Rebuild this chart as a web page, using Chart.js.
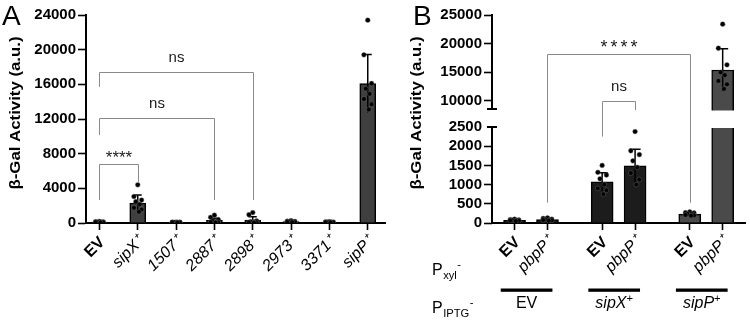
<!DOCTYPE html>
<html>
<head>
<meta charset="utf-8">
<script src="https://cdn.jsdelivr.net/npm/chart.js@4.4.1/dist/chart.umd.min.js"></script>
<style>
  html, body { margin: 0; padding: 0; background: #fff; }
  #wrap { position: relative; width: 750px; height: 323px; overflow: hidden; }
  canvas { position: absolute; top: 0; }
  #chartA { left: 0; }
  #chartB { left: 380px; }
</style>
</head>
<body>
<div id="wrap">
  <canvas id="chartA" width="390" height="323"></canvas>
  <canvas id="chartB" width="370" height="323"></canvas>
</div>
<script>
// ---------- panel A ----------
const strainsA = ['EV', 'sipX⁺', '1507⁺', '2887⁺', '2898⁺', '2973⁺', '3371⁺', 'sipP⁺'];
const meanA = [110, 2300, 80, 300, 330, 150, 100, 16100];
const sdA = [40, 930, 20, 250, 400, 60, 30, 3350];
const pointsA = [
  [180, 150, 120, 110, 100, 80, 70, 60],
  [4400, 3050, 2650, 2450, 2150, 1750, 1550, 1300],
  [110, 100, 90, 80, 75, 70, 60, 50],
  [900, 650, 400, 250, 150, 100, 60, 50],
  [1200, 950, 250, 150, 100, 80, 60, 50],
  [260, 220, 180, 150, 120, 100, 90, 80],
  [150, 130, 110, 100, 90, 80, 70, 60],
  [23400, 19400, 16100, 15500, 14900, 14300, 13700, 13100]
];
const ticksA = [0, 4000, 8000, 12000, 16000, 20000, 24000];
const sigA = [
  { from: 0, to: 1, text: '****', top: 6800, leftEnd: 2650, rightEnd: 4700 },
  { from: 0, to: 3, text: 'ns', top: 12100, leftEnd: 10150, rightEnd: 2650 },
  { from: 0, to: 4, text: 'ns', top: 17400, leftEnd: 15700, rightEnd: 2650 }
];

// ---------- panel B ----------
const pxylLabels = ['EV', 'pbpP⁺'];
const piptgLabels = ['EV', 'sipX⁺', 'sipP⁺'];
const meanB = [70, 90, 1070, 1490, 230, 15400];
const sdB = [15, 25, 240, 430, 30, 3700];
const pointsB = [
  [100, 90, 80, 70, 65, 60, 55, 50],
  [135, 120, 100, 90, 80, 75, 70, 60],
  [1500, 1320, 1250, 1150, 1000, 900, 850, 750],
  [2380, 1880, 1780, 1620, 1450, 1300, 1130, 1000],
  [290, 270, 260, 240, 230, 210, 200, 190],
  [23400, 19200, 16300, 15000, 14500, 13500, 12900, 12100]
];
const ticksB = [0, 500, 1000, 1500, 2000, 2500, 10000, 15000, 20000, 25000];
const sigB = [
  { from: 1, to: 4, text: '****', top: 18150, leftEnd: 530, rightEnd: 530 },
  { from: 2, to: 3, text: 'ns', top: 10000, leftEnd: 2250, rightEnd: 8250 }
];
const BREAK_LOW = 2500, BREAK_HIGH = 8600;

// ---------- shared setup ----------
const FAMILY = '"Liberation Sans", Arial, Helvetica, sans-serif';
Chart.defaults.font.family = FAMILY;
Chart.defaults.color = '#000';

const GROUP_STEP = 2.66;
const xOfA = i => i;
const xOfB = i => Math.floor(i / 2) * GROUP_STEP + (i % 2);
const jitter = [0, -1, 1, -0.5, 0.5, -1, 1, 0.3];

function scatterPoints(sets, xOf, spread) {
  const out = [];
  sets.forEach((vals, i) => {
    vals.forEach((v, k) => out.push({ x: xOf(i) + jitter[k % jitter.length] * spread, y: v }));
  });
  return out;
}

// lower axis segment is 0..2500, upper 8600..max, the rest is the break gap
const LOW_FRAC = 96 / 208, GAP_FRAC = 18 / 208;
class BrokenLinearScale extends Chart.LinearScale {
  static id = 'brokenLinear';
  toDecimal(v) {
    const up = 1 - LOW_FRAC - GAP_FRAC;
    if (v <= BREAK_LOW) return v / BREAK_LOW * LOW_FRAC;
    if (v < BREAK_HIGH) return LOW_FRAC + (v - BREAK_LOW) / (BREAK_HIGH - BREAK_LOW) * GAP_FRAC;
    return LOW_FRAC + GAP_FRAC + (v - BREAK_HIGH) / (this.max - BREAK_HIGH) * up;
  }
  getPixelForValue(v) {
    if (v === null || isNaN(v)) return NaN;
    return this.getPixelForDecimal(this.toDecimal(v));
  }
  getValueForPixel(p) {
    const d = this.getDecimalForPixel(p);
    const up = 1 - LOW_FRAC - GAP_FRAC;
    if (d <= LOW_FRAC) return d / LOW_FRAC * BREAK_LOW;
    if (d < LOW_FRAC + GAP_FRAC) return BREAK_LOW + (d - LOW_FRAC) / GAP_FRAC * (BREAK_HIGH - BREAK_LOW);
    return BREAK_HIGH + (d - LOW_FRAC - GAP_FRAC) / up * (this.max - BREAK_HIGH);
  }
}
Chart.register(BrokenLinearScale);

function font(size, weight, style) {
  return (style || 'normal') + ' ' + (weight || 'normal') + ' ' + size + 'px ' + FAMILY;
}

function makeErrorBars(means, sds, xOf, cap) {
  return {
    id: 'errorBars',
    afterDatasetDraw(chart, args) {
      if (args.index !== 0) return;
      const { ctx, scales: { x, y } } = chart;
      ctx.save();
      ctx.strokeStyle = '#000';
      ctx.lineWidth = 1.5;
      means.forEach((m, i) => {
        const px = x.getPixelForValue(xOf(i));
        const top = y.getPixelForValue(m + sds[i]);
        const bot = y.getPixelForValue(Math.max(0, m - sds[i]));
        ctx.beginPath();
        ctx.moveTo(px, bot); ctx.lineTo(px, top);
        ctx.moveTo(px - cap / 2, top); ctx.lineTo(px + cap / 2, top);
        ctx.stroke();
      });
      ctx.restore();
    }
  };
}

function drawBrackets(chart, list, xOf, starSize, starSpacing) {
  const { ctx, scales: { x, y } } = chart;
  ctx.save();
  list.forEach(b => {
    const x1 = Math.round(x.getPixelForValue(xOf(b.from))) + 0.5;
    const x2 = Math.round(x.getPixelForValue(xOf(b.to))) + 0.5;
    const yt = Math.round(y.getPixelForValue(b.top)) + 0.5;
    ctx.strokeStyle = '#8a8a8a';
    ctx.lineWidth = 1;
    ctx.beginPath();
    ctx.moveTo(x1, y.getPixelForValue(b.leftEnd));
    ctx.lineTo(x1, yt);
    ctx.lineTo(x2, yt);
    ctx.lineTo(x2, y.getPixelForValue(b.rightEnd));
    ctx.stroke();
    ctx.fillStyle = '#1a1a1a';
    ctx.textAlign = 'center';
    ctx.textBaseline = 'alphabetic';
    if (b.text === 'ns') {
      ctx.font = font(15);
      ctx.letterSpacing = '0px';
      ctx.fillText(b.text, (x1 + x2) / 2, yt - 11);
    } else {
      ctx.font = font(starSize);
      ctx.letterSpacing = starSpacing + 'px';
      ctx.fillText(b.text, (x1 + x2) / 2 + starSpacing / 2, yt - 2);
    }
  });
  ctx.restore();
}

function drawYTitle(ctx, cx, cy) {
  ctx.save();
  ctx.translate(cx, cy);
  ctx.rotate(-Math.PI / 2);
  ctx.scale(1.2, 1);
  ctx.font = font(14, 'bold');
  ctx.fillStyle = '#000';
  ctx.textAlign = 'center';
  ctx.textBaseline = 'middle';
  ctx.fillText('β-Gal Activity (a.u.)', 0, 0);
  ctx.restore();
}

function drawPanelLetter(ctx, letter, x, y) {
  ctx.save();
  ctx.font = font(28);
  ctx.fillStyle = '#000';
  ctx.textAlign = 'left';
  ctx.textBaseline = 'alphabetic';
  ctx.fillText(letter, x, y);
  ctx.restore();
}

// text with a superscript tail, e.g. sipX + "+"
function drawSup(ctx, main, sup, cx, base, size, style) {
  ctx.font = font(size, 'normal', style);
  const w1 = ctx.measureText(main).width;
  ctx.font = font(size * 0.7, 'normal', 'normal');
  const w2 = sup ? ctx.measureText(sup).width : 0;
  let x = cx - (w1 + w2) / 2;
  ctx.textAlign = 'left';
  ctx.font = font(size, 'normal', style);
  ctx.fillText(main, x, base);
  if (sup) {
    ctx.font = font(size * 0.7);
    ctx.fillText(sup, x + w1, base - size * 0.4);
  }
}

function drawSubSup(ctx, main, sub, sup, x, base, size) {
  ctx.textAlign = 'left';
  ctx.font = font(size);
  ctx.fillText(main, x, base);
  const w = ctx.measureText(main).width;
  ctx.font = font(size * 0.7);
  ctx.fillText(sub, x + w + 0.5, base + 4);
  const ws = ctx.measureText(sub).width;
  ctx.fillText(sup, x + w + ws + 1, base - 7);
}

function yAxisCommon(width) {
  return {
    afterFit: s => { s.width = width; },
    grid: { drawOnChartArea: false, tickLength: 8, tickColor: '#000', tickWidth: 1.6 },
    ticks: { color: '#000', padding: 2, font: { size: 15, weight: 'bold' }, callback: v => String(v) }
  };
}

function xTicks(labelOf, isBold) {
  return {
    autoSkip: false, minRotation: 45, maxRotation: 45, padding: 3, labelOffset: 3, color: '#000',
    font: c => ({ size: 16, weight: isBold(c.index) ? 'bold' : 'normal', style: isBold(c.index) ? 'normal' : 'italic' }),
    callback: (v, i) => labelOf(i)
  };
}

// ---------- chart A ----------
new Chart(document.getElementById('chartA'), {
  type: 'bar',
  data: {
    datasets: [
      {
        type: 'bar',
        data: meanA.map((m, i) => ({ x: xOfA(i), y: m })),
        backgroundColor: '#3f3f3f',
        borderColor: '#000',
        borderWidth: 1.5,
        barThickness: 16,
        order: 2
      },
      {
        type: 'scatter',
        data: scatterPoints(pointsA, xOfA, 0.1),
        pointRadius: 2.4,
        pointBackgroundColor: '#000',
        pointBorderColor: 'rgba(110,110,110,0.7)',
        pointBorderWidth: 0.6,
        order: 1
      }
    ]
  },
  options: {
    responsive: false,
    animation: false,
    layout: { padding: { top: 15, right: 5, left: 0, bottom: 0 } },
    plugins: { legend: { display: false }, tooltip: { enabled: false } },
    scales: {
      x: {
        type: 'linear', min: -0.35, max: 7.45, offset: false,
        afterBuildTicks: s => { s.ticks = strainsA.map((_, i) => ({ value: xOfA(i) })); },
        afterFit: s => { s.height = 100; },
        border: { color: '#000', width: 2 },
        grid: { offset: false, drawOnChartArea: false, tickLength: 7, tickColor: '#000', tickWidth: 1.6 },
        ticks: xTicks(i => strainsA[i], i => i === 0)
      },
      y: Object.assign(yAxisCommon(86), {
        min: 0, max: 24000,
        afterBuildTicks: s => { s.ticks = ticksA.map(v => ({ value: v })); },
        border: { color: '#000', width: 2 }
      })
    }
  },
  plugins: [
    makeErrorBars(meanA, sdA, xOfA, 8),
    {
      id: 'decorA',
      afterDatasetsDraw(chart) { drawBrackets(chart, sigA, xOfA, 17, 0); },
      afterDraw(chart) {
        drawPanelLetter(chart.ctx, 'A', 2, 25);
        drawYTitle(chart.ctx, 16, 113);
      }
    }
  ]
});

// ---------- chart B ----------
const colorsB = ['#1c1c1c', '#1c1c1c', '#1c1c1c', '#1c1c1c', '#4a4a4a', '#4a4a4a'];
new Chart(document.getElementById('chartB'), {
  type: 'bar',
  data: {
    datasets: [
      {
        type: 'bar',
        data: meanB.map((m, i) => ({ x: xOfB(i), y: m })),
        backgroundColor: colorsB,
        borderColor: '#000',
        borderWidth: 1.5,
        barThickness: 22,
        order: 2
      },
      {
        type: 'scatter',
        data: scatterPoints(pointsB, xOfB, 0.13),
        pointRadius: 2.4,
        pointBackgroundColor: '#000',
        pointBorderColor: 'rgba(110,110,110,0.7)',
        pointBorderWidth: 0.6,
        order: 1
      }
    ]
  },
  options: {
    responsive: false,
    animation: false,
    layout: { padding: { top: 15, right: 2, left: 0, bottom: 0 } },
    plugins: { legend: { display: false }, tooltip: { enabled: false } },
    scales: {
      x: {
        type: 'linear', min: -0.685, max: 7.01, offset: false,
        afterBuildTicks: s => { s.ticks = meanB.map((_, i) => ({ value: xOfB(i) })); },
        afterFit: s => { s.height = 100; },
        border: { color: '#000', width: 2 },
        grid: { offset: false, drawOnChartArea: false, tickLength: 7, tickColor: '#000', tickWidth: 1.6 },
        ticks: xTicks(i => pxylLabels[i % 2], i => i % 2 === 0)
      },
      y: Object.assign(yAxisCommon(112), {
        type: 'brokenLinear', min: 0, max: 25000,
        afterBuildTicks: s => { s.ticks = ticksB.map(v => ({ value: v })); },
        border: { display: false },
        grid: {
          drawOnChartArea: false, tickLength: 8, tickWidth: 1.6,
          tickColor: c => (c.tick && c.tick.value === BREAK_LOW) ? 'rgba(0,0,0,0)' : '#000'
        }
      })
    }
  },
  plugins: [
    makeErrorBars(meanB, sdB, xOfB, 11),
    {
      id: 'decorB',
      afterDatasetsDraw(chart) {
        const { ctx, chartArea, scales: { y } } = chart;
        const yHigh = y.getPixelForValue(BREAK_HIGH);
        const yLow = y.getPixelForValue(BREAK_LOW);
        // blank the break band
        ctx.save();
        ctx.fillStyle = '#fff';
        ctx.fillRect(chartArea.left + 1, yHigh + 1.5, chartArea.right - chartArea.left, yLow - yHigh - 0.5);
        ctx.restore();
        drawBrackets(chart, sigB, xOfB, 18, 3);
        // broken y axis
        const ax = chartArea.left;
        ctx.save();
        ctx.strokeStyle = '#000';
        ctx.lineWidth = 2;
        ctx.beginPath();
        ctx.moveTo(ax, y.getPixelForValue(y.max) - 1); ctx.lineTo(ax, yHigh);
        ctx.moveTo(ax - 5, yHigh); ctx.lineTo(ax + 5, yHigh);
        ctx.moveTo(ax - 5, yLow); ctx.lineTo(ax + 5, yLow);
        ctx.moveTo(ax, yLow); ctx.lineTo(ax, y.getPixelForValue(0) + 1);
        ctx.stroke();
        ctx.restore();
      },
      afterDraw(chart) {
        const { ctx, scales: { x } } = chart;
        drawPanelLetter(ctx, 'B', 33, 25);
        drawYTitle(ctx, 37.5, 113);
        ctx.save();
        ctx.fillStyle = '#000';
        drawSubSup(ctx, 'P', 'xyl', '-', 52, 275, 16);
        drawSubSup(ctx, 'P', 'IPTG', '-', 52, 313, 16);
        piptgLabels.forEach((lab, g) => {
          const l = x.getPixelForValue(xOfB(2 * g) - 0.42);
          const r = x.getPixelForValue(xOfB(2 * g + 1) + 0.15);
          ctx.fillRect(l, 288.5, r - l, 3.3);
          const cx = (l + r) / 2;
          if (g === 0) drawSup(ctx, lab, '', cx, 308, 16, 'normal');
          else drawSup(ctx, lab.replace('⁺', ''), '+', cx, 308, 16, 'italic');
        });
        ctx.restore();
      }
    }
  ]
});
</script>
</body>
</html>
